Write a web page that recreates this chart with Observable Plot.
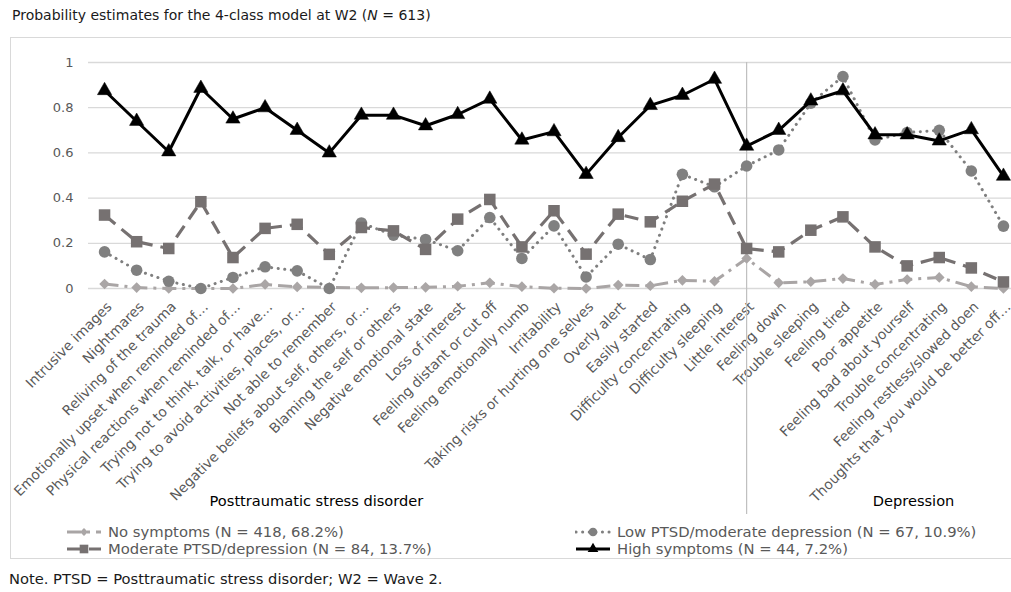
<!DOCTYPE html>
<html>
<head>
<meta charset="utf-8">
<script src="https://cdn.jsdelivr.net/npm/d3@7"></script>
<script src="https://cdn.jsdelivr.net/npm/@observablehq/plot@0.6"></script>
<style>
  html, body { margin: 0; padding: 0; background: #fff; overflow: hidden; }
  body { width: 1011px; height: 592px; position: relative; font-family: "DejaVu Sans", sans-serif; }
  #title { position: absolute; left: 12px; top: 5px; font-size: 14px; line-height: 20px; color: #1a1a1a; white-space: nowrap; }
  #box { position: absolute; left: 10px; top: 37px; width: 1100px; height: 522px; border: 1px solid #d9d9d9; box-sizing: border-box; }
  #chart { position: absolute; left: 0; top: 38px; width: 1011px; height: 480px; overflow: hidden; }
  #chart svg { max-width: none !important; }
  #legend { position: absolute; left: 0; top: 523px; width: 1011px; font-size: 14.8px; color: #595959; }
  .item { position: absolute; display: flex; align-items: center; height: 17px; white-space: nowrap; }
  .item svg { margin-right: 6px; }
  #note { position: absolute; left: 9px; top: 569px; font-size: 14.7px; line-height: 20px; color: #1a1a1a; white-space: nowrap; }
</style>
</head>
<body>
<div id="title">Probability estimates for the 4-class model at W2 (<i>N</i> = 613)</div>
<div id="box"></div>
<div id="chart"></div>
<div id="legend"></div>
<div id="note">Note. PTSD = Posttraumatic stress disorder; W2 = Wave 2.</div>
<script>
const categories = [
  "Intrusive images", "Nightmares", "Reliving of the trauma",
  "Emotionally upset when reminded of…", "Physical reactions when reminded of…",
  "Trying not to think, talk, or have…", "Trying to avoid activities, places, or…",
  "Not able to remember", "Negative beliefs about self, others, or…",
  "Blaming the self or others", "Negative emotional state", "Loss of interest",
  "Feeling distant or cut off", "Feeling emotionally numb", "Irritability",
  "Taking risks or hurting one selves", "Overly alert", "Easily started",
  "Difficulty concentrating", "Difficulty sleeping", "Little interest",
  "Feeling down", "Trouble sleeping", "Feeling tired", "Poor appetite",
  "Feeling bad about yourself", "Trouble concentrating",
  "Feeling restless/slowed doen", "Thoughts that you would be better off…"
];

const noSymptoms = [0.02, 0.004, 0.0, 0.0, 0.0, 0.018, 0.007, 0.005, 0.003, 0.004, 0.005, 0.01, 0.025, 0.008, 0.001, 0.0, 0.015, 0.012, 0.036, 0.032, 0.133, 0.025, 0.03, 0.044, 0.018, 0.04, 0.049, 0.008, 0.0];
const lowPTSD = [0.162, 0.081, 0.032, 0.0, 0.049, 0.096, 0.078, 0.0, 0.29, 0.236, 0.217, 0.167, 0.314, 0.133, 0.277, 0.051, 0.196, 0.128, 0.505, 0.45, 0.542, 0.613, 0.82, 0.938, 0.657, 0.69, 0.70, 0.52, 0.276];
const moderate = [0.325, 0.207, 0.177, 0.384, 0.137, 0.266, 0.284, 0.151, 0.27, 0.255, 0.173, 0.307, 0.394, 0.184, 0.344, 0.152, 0.329, 0.295, 0.386, 0.462, 0.177, 0.162, 0.258, 0.317, 0.184, 0.10, 0.137, 0.091, 0.029];
const high = [0.876, 0.74, 0.605, 0.886, 0.75, 0.80, 0.70, 0.60, 0.767, 0.767, 0.72, 0.77, 0.838, 0.657, 0.694, 0.505, 0.668, 0.81, 0.855, 0.926, 0.63, 0.70, 0.83, 0.875, 0.68, 0.68, 0.653, 0.703, 0.497];

const yTicks = [0, 0.2, 0.4, 0.6, 0.8, 1];
const groupLabels = ["Posttraumatic stress disorder", "Depression"];
const groupCenters = [6.6, 25.2];
const dividerCategory = "Little interest";

const seriesNames = [
  "No symptoms (N = 418, 68.2%)",
  "Low PTSD/moderate depression (N = 67, 10.9%)",
  "Moderate PTSD/depression (N = 84, 13.7%)",
  "High symptoms (N = 44, 7.2%)"
];

const styles = [
  {values: noSymptoms, stroke: "#a9a5a5", width: 3, dash: "14 6 3 6", cap: "butt", symbol: "diamond2", r: 4.8, fill: "#aaa6a6"},
  {values: lowPTSD, stroke: "#7f7f7f", width: 3, dash: "0.1 6.5", cap: "round", symbol: "circle", r: 5.8, fill: "#808080"},
  {values: moderate, stroke: "#767171", width: 3.2, dash: "14 8", cap: "butt", symbol: "square", r: 6.5, fill: "#767171"},
  {values: high, stroke: "#000000", width: 3, dash: null, cap: "butt", symbol: "triangle", r: 5.3, fill: "#000000"}
];

const idx = categories.map((_, i) => i);
const groups = groupLabels.map((label, i) => ({label, center: groupCenters[i]}));

const marks = [
  Plot.gridY(yTicks, {stroke: "#d9d9d9", strokeOpacity: 1, strokeWidth: 1.3}),
  Plot.axisY(yTicks, {tickSize: 0, tickPadding: 15, fontSize: 13, fill: "#595959", label: null, tickFormat: d => String(d)}),
  Plot.axisX(idx, {tickSize: 0, tickPadding: 16, dx: 5, tickRotate: -45, fontSize: 13.8, fill: "#595959", label: null, tickFormat: i => categories[i]}),
  Plot.ruleX([categories.indexOf(dividerCategory)], {stroke: "#bfbfbf", strokeWidth: 1.2, insetBottom: -226})
];

styles.forEach(s => {
  marks.push(Plot.line(s.values, {x: (d, i) => i, y: d => d, stroke: s.stroke, strokeWidth: s.width,
    strokeDasharray: s.dash, strokeLinecap: s.cap, strokeLinejoin: "round"}));
  marks.push(Plot.dot(s.values, {x: (d, i) => i, y: d => d, symbol: s.symbol, r: s.r, fill: s.fill,
    stroke: s.symbol === "triangle" ? "#000" : "none", strokeWidth: 0.5}));
});

marks.push(Plot.text(groups, {x: "center", text: "label", frameAnchor: "bottom", dy: 217, fontSize: 14.6, fill: "#000"}));

const chart = Plot.plot({
  width: 1027, height: 480,
  marginLeft: 88, marginRight: 8, marginTop: 24, marginBottom: 230,
  x: {domain: [-0.5, 28.5], axis: null, label: null},
  y: {domain: [0, 1], axis: null, label: null},
  style: {fontFamily: "DejaVu Sans", background: "transparent", overflow: "visible", maxWidth: "none"},
  marks
});
chart.style.maxWidth = "none";
document.getElementById("chart").appendChild(chart);

// Legend
const legend = d3.select("#legend");
const positions = [[66, 0], [575, 0], [66, 17], [575, 17]];
const symbolMap = {diamond2: d3.symbolDiamond2, circle: d3.symbolCircle, square: d3.symbolSquare, triangle: d3.symbolTriangle};
seriesNames.forEach((name, k) => {
  const s = styles[k];
  const item = legend.append("div").attr("class", "item")
    .style("left", positions[k][0] + "px").style("top", positions[k][1] + "px");
  const sv = item.append("svg").attr("width", 36).attr("height", 14);
  sv.append("line").attr("x1", 1).attr("x2", 35).attr("y1", 7).attr("y2", 7)
    .attr("stroke", s.stroke).attr("stroke-width", s.width)
    .attr("stroke-dasharray", s.dash ? s.dash : null).attr("stroke-linecap", s.cap);
  sv.append("path").attr("transform", "translate(18,7)")
    .attr("d", d3.symbol(symbolMap[s.symbol], Math.PI * (s.r * 0.75) ** 2)())
    .attr("fill", s.fill);
  item.append("span").text(name);
});
</script>
</body>
</html>
